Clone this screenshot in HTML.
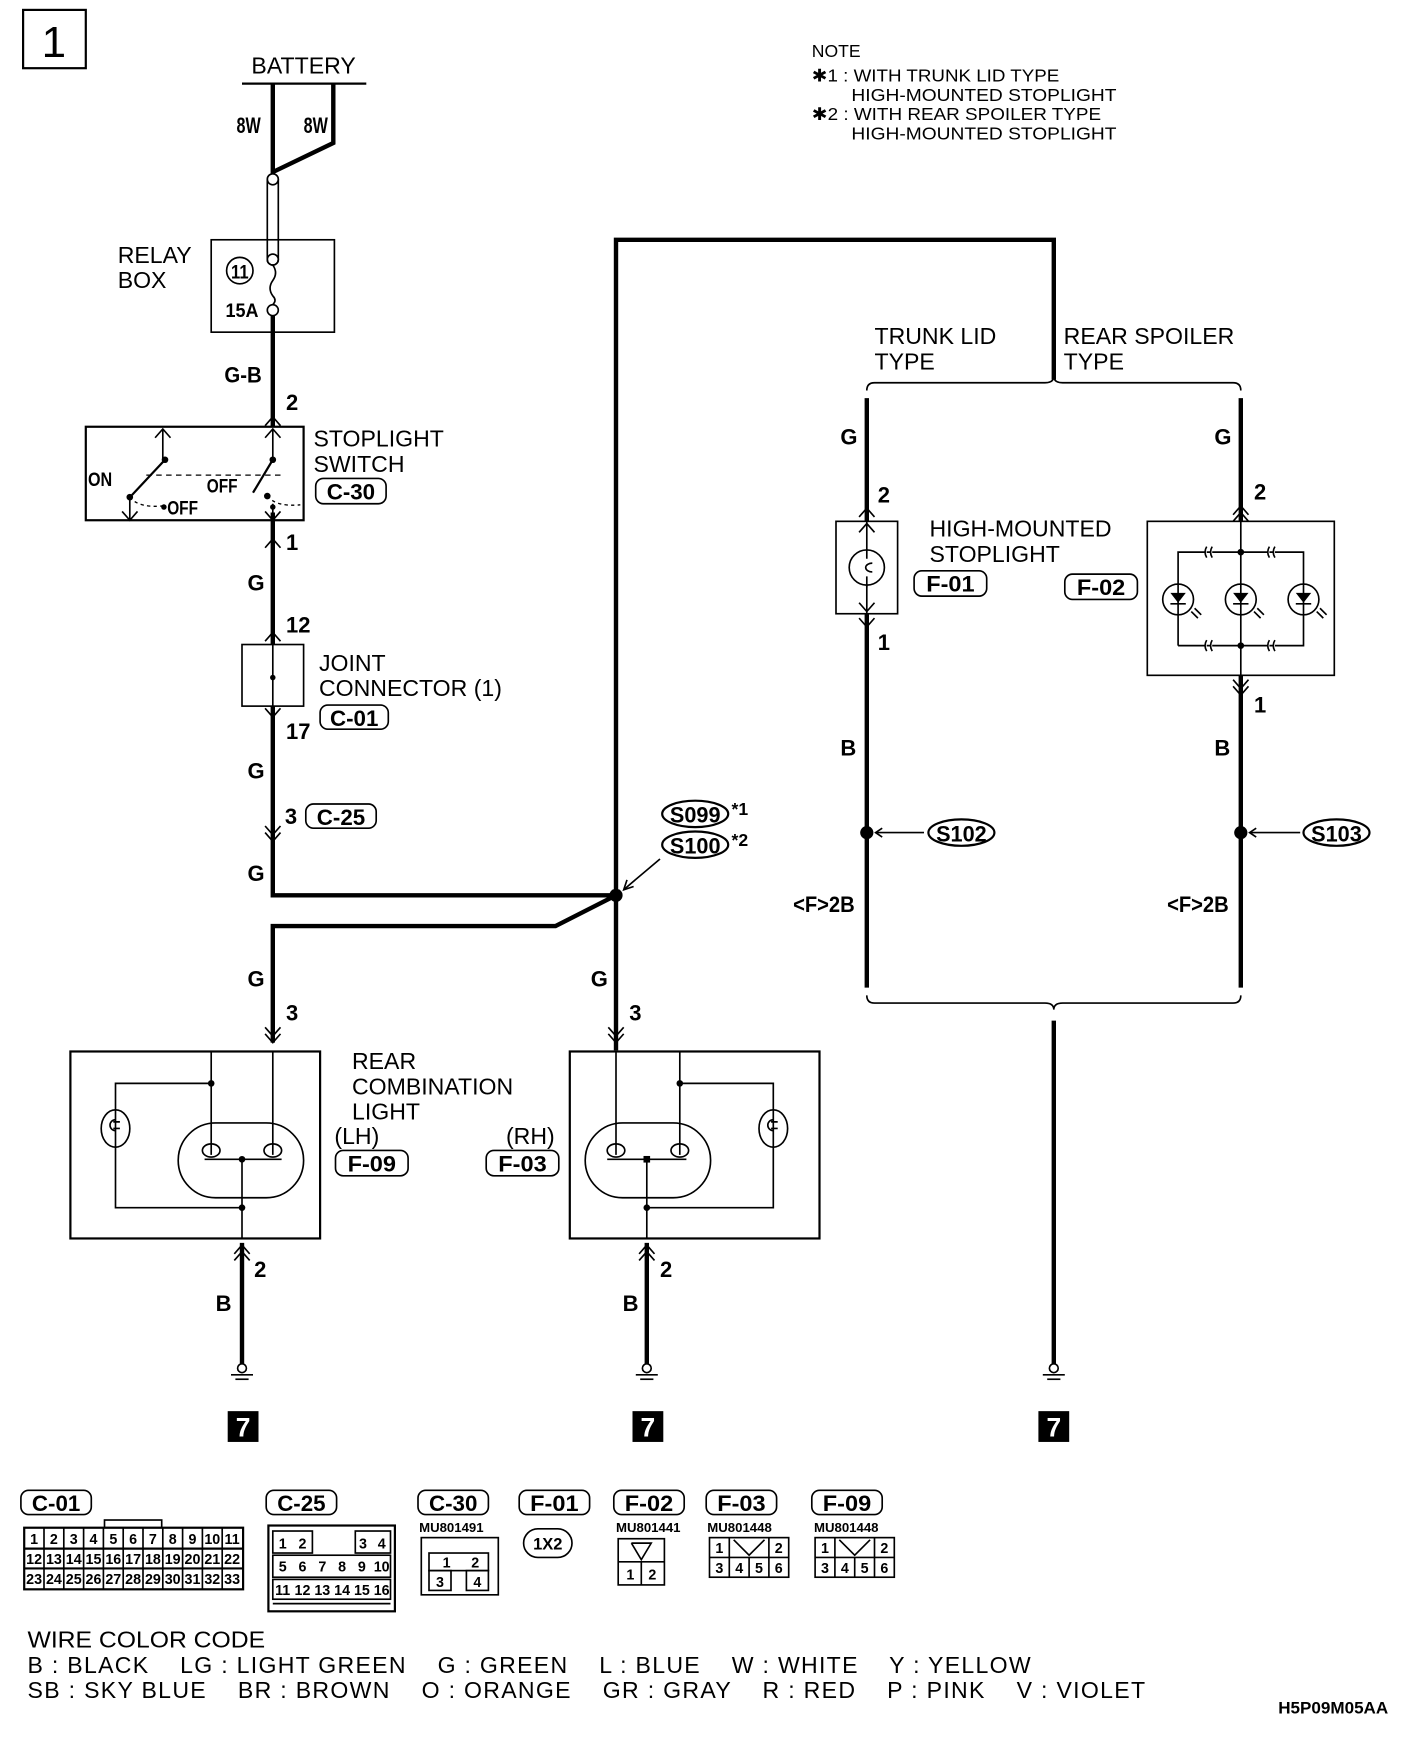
<!DOCTYPE html>
<html><head><meta charset="utf-8"><style>
html,body{margin:0;padding:0;background:#fff;}
svg{display:block}
.t{font-family:"Liberation Sans",sans-serif;font-size:21px;fill:#000}
.s{font-family:"Liberation Sans",sans-serif;font-size:16px;fill:#000}
.b{font-family:"Liberation Sans Narrow","Liberation Sans",sans-serif;font-weight:bold;font-size:20px;fill:#000}
.w{stroke:#000;stroke-width:4;fill:none}
.n{stroke:#000;stroke-width:1.5;fill:none}
.m{stroke:#000;stroke-width:2;fill:none}
</style></head><body>
<svg width="1408" height="1740" viewBox="0 0 1280 1582" preserveAspectRatio="none" xmlns="http://www.w3.org/2000/svg">
<rect width="1280" height="1582" fill="#fff"/>
<defs>
<g id="up"><polyline points="-7,8 0,0 7,8" class="n"/></g>
<g id="dn"><polyline points="-7,-8 0,0 7,-8" class="n"/></g>
<g id="up2"><polyline points="-7,8 0,0 7,8" class="n"/><polyline points="-7,14 0,6 7,14" class="n"/></g>
<g id="dn2"><polyline points="-7,-8 0,0 7,-8" class="n"/><polyline points="-7,-14 0,-6 7,-14" class="n"/></g>
<g id="gnd"><circle cx="0" cy="0" r="4" class="n" fill="#fff"/><line x1="-10" y1="6" x2="10" y2="6" class="n"/><line x1="-6" y1="10" x2="6" y2="10" class="n"/></g>
</defs>

<!-- box 1 -->
<rect x="21" y="9" width="57" height="53" class="m"/>
<text x="49" y="52" class="t" style="font-size:40px" text-anchor="middle">1</text>

<!-- battery -->
<text x="276" y="67" class="t" text-anchor="middle">BATTERY</text>
<line x1="220" y1="76" x2="333" y2="76" class="m"/>
<polyline points="248,76 248,158" class="w"/>
<polyline points="303,76 303,130 249,156" class="w"/>
<text x="215" y="121" class="b" textLength="22" lengthAdjust="spacingAndGlyphs">8W</text>
<text x="276" y="121" class="b" textLength="22" lengthAdjust="spacingAndGlyphs">8W</text>
<circle cx="248" cy="163" r="5" class="n" fill="#fff"/>
<line x1="243" y1="163" x2="243" y2="236" class="n"/>
<line x1="253" y1="163" x2="253" y2="236" class="n"/>
<path d="M243,236 A5,5 0 0 0 253,236" class="n"/>
<circle cx="248" cy="236" r="5" class="n" fill="#fff"/>
<path d="M248,241 q5,7 0,14 q-5,7 0,14 q4,4 0,8" class="n"/>
<circle cx="248" cy="282" r="5" class="n" fill="#fff"/>
<rect x="192" y="218" width="112" height="84" class="n"/>
<circle cx="218" cy="246" r="12" class="n"/>
<text x="218" y="253" class="b" text-anchor="middle" style="font-size:18px" textLength="16" lengthAdjust="spacingAndGlyphs">11</text>
<text x="205" y="288" class="b" style="font-size:18px" textLength="30" lengthAdjust="spacingAndGlyphs">15A</text>
<text x="107" y="239" class="t">RELAY</text>
<text x="107" y="262" class="t">BOX</text>

<polyline points="248,287 248,388" class="w"/>
<text x="204" y="348" class="b" textLength="34" lengthAdjust="spacingAndGlyphs">G-B</text>
<text x="260" y="373" class="b">2</text>
<use href="#up" x="248" y="379"/>

<!-- stoplight switch -->
<rect x="78" y="388" width="198" height="85" class="m"/>
<use href="#up" x="148" y="390"/>
<use href="#up" x="248" y="390"/>
<line x1="148" y1="390" x2="148" y2="418" class="n"/>
<line x1="248" y1="390" x2="248" y2="418" class="n"/>
<circle cx="150" cy="418" r="3"/>
<circle cx="248" cy="418" r="3"/>
<line x1="150" y1="418" x2="120" y2="450" class="m"/>
<line x1="248" y1="418" x2="230" y2="448" class="m"/>
<line x1="133" y1="432" x2="258" y2="432" stroke="#000" stroke-width="1.2" stroke-dasharray="5,4"/>
<circle cx="118" cy="452" r="3"/>
<circle cx="243" cy="451" r="3"/>
<path d="M118,452 q8,10 30,8" stroke="#000" stroke-width="1.2" stroke-dasharray="3,3" fill="none"/>
<path d="M243,451 q8,10 30,8" stroke="#000" stroke-width="1.2" stroke-dasharray="3,3" fill="none"/>
<circle cx="149" cy="461" r="2.5"/>
<circle cx="248" cy="461" r="2.5"/>
<line x1="118" y1="452" x2="118" y2="473" class="n"/>
<use href="#dn" x="118" y="473"/>
<line x1="248" y1="458" x2="248" y2="473" class="n"/>
<text x="80" y="442" class="b" style="font-size:18px" textLength="22" lengthAdjust="spacingAndGlyphs">ON</text>
<text x="188" y="448" class="b" style="font-size:18px" textLength="28" lengthAdjust="spacingAndGlyphs">OFF</text>
<text x="152" y="468" class="b" style="font-size:18px" textLength="28" lengthAdjust="spacingAndGlyphs">OFF</text>
<text x="285" y="406" class="t">STOPLIGHT</text>
<text x="285" y="429" class="t">SWITCH</text>
<rect x="287" y="435" width="64" height="23" rx="7" class="n"/>
<text x="319" y="454" class="b" text-anchor="middle" textLength="44" lengthAdjust="spacingAndGlyphs">C-30</text>

<use href="#dn" x="248" y="473"/>
<use href="#up" x="248" y="490"/>
<polyline points="248,466 248,586" class="w"/>
<text x="260" y="500" class="b">1</text>
<text x="225" y="537" class="b">G</text>
<text x="260" y="575" class="b">12</text>
<use href="#up" x="248" y="575"/>

<!-- joint connector -->
<rect x="220" y="586" width="56" height="56" class="n"/>
<line x1="248" y1="586" x2="248" y2="642" class="n"/>
<circle cx="248" cy="616" r="2.5"/>
<text x="290" y="610" class="t">JOINT</text>
<text x="290" y="633" class="t">CONNECTOR (1)</text>
<rect x="291" y="641" width="62" height="22" rx="7" class="n"/>
<text x="322" y="660" class="b" text-anchor="middle" textLength="44" lengthAdjust="spacingAndGlyphs">C-01</text>
<use href="#dn" x="248" y="652"/>
<polyline points="248,642 248,814 560,814" class="w"/>
<text x="260" y="672" class="b">17</text>
<text x="225" y="708" class="b">G</text>
<text x="259" y="749" class="b">3</text>
<rect x="278" y="731" width="64" height="22" rx="7" class="n"/>
<text x="310" y="750" class="b" text-anchor="middle" textLength="44" lengthAdjust="spacingAndGlyphs">C-25</text>
<use href="#dn2" x="248" y="765"/>
<text x="225" y="801" class="b">G</text>

<!-- splice and big wire -->
<polyline points="560,955 560,218 958,218 958,345" class="w"/>
<polyline points="560,814 505,842 248,842 248,948" class="w"/>
<circle cx="560" cy="814" r="6"/>
<ellipse cx="632" cy="740" rx="30" ry="12" class="m"/>
<text x="632" y="748" class="b" text-anchor="middle" textLength="46" lengthAdjust="spacingAndGlyphs">S099</text>
<text x="665" y="741" class="b" style="font-size:16px">*1</text>
<ellipse cx="632" cy="768" rx="30" ry="12" class="m"/>
<text x="632" y="776" class="b" text-anchor="middle" textLength="46" lengthAdjust="spacingAndGlyphs">S100</text>
<text x="665" y="769" class="b" style="font-size:16px">*2</text>
<line x1="600" y1="781" x2="568" y2="808" class="n"/>
<polyline points="570,800 567,809 576,806" class="n"/>

<!-- rear combination lamps -->
<text x="225" y="897" class="b">G</text>
<text x="260" y="928" class="b">3</text>
<use href="#dn2" x="248" y="948"/>
<text x="537" y="897" class="b">G</text>
<text x="572" y="928" class="b">3</text>
<use href="#dn2" x="560" y="948"/>

<rect x="64" y="956" width="227" height="170" class="m"/>
<line x1="248" y1="956" x2="248" y2="1050" class="n"/>
<polyline points="192,956 192,1050" class="n"/>
<polyline points="192,985 105,985 105,1098 220,1098" class="n"/>
<circle cx="192" cy="985" r="3"/>
<ellipse cx="105" cy="1026" rx="13" ry="17" class="n" fill="#fff"/>
<path d="M105,1018 a5,5 0 1 0 0,10 M103,1020 h6 M103,1026 h6" class="n"/>
<rect x="162" y="1021" width="114" height="68" rx="34" class="n"/>
<path d="M192,1040 a8,6 0 1 0 0,12 a8,6 0 1 0 0,-12 M248,1040 a8,6 0 1 0 0,12 a8,6 0 1 0 0,-12" class="n"/>
<line x1="186" y1="1054" x2="256" y2="1054" class="n"/>
<line x1="220" y1="1054" x2="220" y2="1126" class="n"/>
<circle cx="220" cy="1054" r="3"/>
<circle cx="220" cy="1098" r="3"/>

<rect x="518" y="956" width="227" height="170" class="m"/>
<line x1="560" y1="956" x2="560" y2="1050" class="n"/>
<polyline points="618,956 618,1050" class="n"/>
<polyline points="618,985 703,985 703,1098 588,1098" class="n"/>
<circle cx="618" cy="985" r="3"/>
<ellipse cx="703" cy="1026" rx="13" ry="17" class="n" fill="#fff"/>
<path d="M703,1018 a5,5 0 1 0 0,10 M701,1020 h6 M701,1026 h6" class="n"/>
<rect x="532" y="1021" width="114" height="68" rx="34" class="n"/>
<path d="M560,1040 a8,6 0 1 0 0,12 a8,6 0 1 0 0,-12 M618,1040 a8,6 0 1 0 0,12 a8,6 0 1 0 0,-12" class="n"/>
<line x1="552" y1="1054" x2="624" y2="1054" class="n"/>
<line x1="588" y1="1054" x2="588" y2="1126" class="n"/>
<rect x="585" y="1051" width="6" height="6"/>
<circle cx="588" cy="1098" r="3"/>

<text x="320" y="972" class="t">REAR</text>
<text x="320" y="995" class="t">COMBINATION</text>
<text x="320" y="1018" class="t">LIGHT</text>
<text x="304" y="1040" class="t">(LH)</text>
<rect x="305" y="1046" width="66" height="23" rx="7" class="n"/>
<text x="338" y="1065" class="b" text-anchor="middle" textLength="44" lengthAdjust="spacingAndGlyphs">F-09</text>
<text x="460" y="1040" class="t">(RH)</text>
<rect x="442" y="1046" width="66" height="23" rx="7" class="n"/>
<text x="475" y="1065" class="b" text-anchor="middle" textLength="44" lengthAdjust="spacingAndGlyphs">F-03</text>

<!-- grounds -->
<polyline points="220,1130 220,1240" class="w"/>
<use href="#up2" x="220" y="1132"/>
<text x="231" y="1161" class="b">2</text>
<text x="196" y="1192" class="b">B</text>
<use href="#gnd" x="220" y="1244"/>
<rect x="207" y="1283" width="28" height="28"/>
<text x="221" y="1306" class="b" style="fill:#fff;font-size:24px" text-anchor="middle">7</text>

<polyline points="588,1130 588,1240" class="w"/>
<use href="#up2" x="588" y="1132"/>
<text x="600" y="1161" class="b">2</text>
<text x="566" y="1192" class="b">B</text>
<use href="#gnd" x="588" y="1244"/>
<rect x="575" y="1283" width="28" height="28"/>
<text x="589" y="1306" class="b" style="fill:#fff;font-size:24px" text-anchor="middle">7</text>

<polyline points="958,928 958,1240" class="w"/>
<use href="#gnd" x="958" y="1244"/>
<rect x="944" y="1283" width="28" height="28"/>
<text x="958" y="1306" class="b" style="fill:#fff;font-size:24px" text-anchor="middle">7</text>

<!-- right side -->
<text x="795" y="313" class="t">TRUNK LID</text>
<text x="795" y="336" class="t">TYPE</text>
<text x="967" y="313" class="t">REAR SPOILER</text>
<text x="967" y="336" class="t">TYPE</text>
<path d="M788,355 q0,-7 7,-7 H950 q8,0 8,-6 q0,6 8,6 H1121 q7,0 7,7" class="n"/>
<path d="M788,905 q0,7 7,7 H950 q8,0 8,6 q0,-6 8,-6 H1121 q7,0 7,-7" class="n"/>

<polyline points="788,362 788,898" class="w"/>
<polyline points="1128,362 1128,898" class="w"/>
<text x="764" y="404" class="b">G</text>
<text x="1104" y="404" class="b">G</text>
<text x="798" y="457" class="b">2</text>
<text x="1140" y="454" class="b">2</text>
<use href="#up" x="788" y="462"/>
<rect x="760" y="474" width="56" height="84" fill="#fff" stroke="#000" stroke-width="1.5"/>
<line x1="788" y1="474" x2="788" y2="558" class="n"/>
<use href="#up" x="788" y="476"/>
<use href="#dn" x="788" y="556"/>
<use href="#dn" x="788" y="570"/>
<circle cx="788" cy="516" r="16" fill="#fff" stroke="#000" stroke-width="1.5"/>
<path d="M793,512 a6,4 0 1 0 0,8 M788,500 v8 M788,524 v10" class="n"/>
<text x="798" y="591" class="b">1</text>
<text x="845" y="488" class="t">HIGH-MOUNTED</text>
<text x="845" y="511" class="t">STOPLIGHT</text>
<rect x="831" y="519" width="66" height="23" rx="7" class="n"/>
<text x="864" y="538" class="b" text-anchor="middle" textLength="44" lengthAdjust="spacingAndGlyphs">F-01</text>
<rect x="968" y="522" width="66" height="23" rx="7" class="n"/>
<text x="1001" y="541" class="b" text-anchor="middle" textLength="44" lengthAdjust="spacingAndGlyphs">F-02</text>

<use href="#up2" x="1128" y="460"/>
<rect x="1043" y="474" width="170" height="140" fill="#fff" stroke="#000" stroke-width="1.5"/>
<line x1="1128" y1="474" x2="1128" y2="614" class="n"/>
<polyline points="1071,587 1071,502 1185,502 1185,587 1071,587" class="n"/>
<circle cx="1128" cy="502" r="3"/>
<circle cx="1128" cy="587" r="3"/>
<g fill="#fff" stroke="#000" stroke-width="1.5">
<circle cx="1071" cy="545" r="14"/><circle cx="1128" cy="545" r="14"/><circle cx="1185" cy="545" r="14"/>
</g>
<g>
<path d="M1064,539 h14 l-7,9 z M1121,539 h14 l-7,9 z M1178,539 h14 l-7,9 z"/>
<path d="M1064,549 h14 M1121,549 h14 M1178,549 h14 M1071,531 v28 M1128,531 v28 M1185,531 v28" class="n"/>
<path d="M1083,556 l6,6 M1086,553 l6,6 M1140,556 l6,6 M1143,553 l6,6 M1197,556 l6,6 M1200,553 l6,6" class="n"/>
<path d="M1097,497 q-3,5 0,10 M1102,497 q-3,5 0,10 M1154,497 q-3,5 0,10 M1159,497 q-3,5 0,10 M1097,582 q-3,5 0,10 M1102,582 q-3,5 0,10 M1154,582 q-3,5 0,10 M1159,582 q-3,5 0,10" stroke="#000" stroke-width="1.5" fill="#fff"/>
</g>
<use href="#dn2" x="1128" y="632"/>
<text x="1140" y="648" class="b">1</text>
<text x="764" y="687" class="b">B</text>
<text x="1104" y="687" class="b">B</text>

<circle cx="788" cy="757" r="6"/>
<line x1="840" y1="757" x2="796" y2="757" class="n"/>
<polyline points="802,753 796,757 802,761" class="n"/>
<ellipse cx="874" cy="757" rx="30" ry="12" class="m"/>
<text x="874" y="765" class="b" text-anchor="middle" textLength="46" lengthAdjust="spacingAndGlyphs">S102</text>
<circle cx="1128" cy="757" r="6"/>
<line x1="1182" y1="757" x2="1136" y2="757" class="n"/>
<polyline points="1142,753 1136,757 1142,761" class="n"/>
<ellipse cx="1215" cy="757" rx="30" ry="12" class="m"/>
<text x="1215" y="765" class="b" text-anchor="middle" textLength="46" lengthAdjust="spacingAndGlyphs">S103</text>
<text x="721" y="829" class="b" textLength="56" lengthAdjust="spacingAndGlyphs">&lt;F&gt;2B</text>
<text x="1061" y="829" class="b" textLength="56" lengthAdjust="spacingAndGlyphs">&lt;F&gt;2B</text>

<!-- note -->
<text x="738" y="52" class="s">NOTE</text>
<text x="738" y="74" class="s" textLength="225" lengthAdjust="spacingAndGlyphs">✱1 : WITH TRUNK LID TYPE</text>
<text x="774" y="92" class="s" textLength="241" lengthAdjust="spacingAndGlyphs">HIGH-MOUNTED STOPLIGHT</text>
<text x="738" y="109" class="s" textLength="263" lengthAdjust="spacingAndGlyphs">✱2 : WITH REAR SPOILER TYPE</text>
<text x="774" y="127" class="s" textLength="241" lengthAdjust="spacingAndGlyphs">HIGH-MOUNTED STOPLIGHT</text>

<!-- connector legend -->
<g>
<rect x="19" y="1355" width="64" height="22" rx="7" class="n"/><text x="51" y="1374" class="b" text-anchor="middle" textLength="44" lengthAdjust="spacingAndGlyphs">C-01</text>
<rect x="242" y="1355" width="64" height="22" rx="7" class="n"/><text x="274" y="1374" class="b" text-anchor="middle" textLength="44" lengthAdjust="spacingAndGlyphs">C-25</text>
<rect x="380" y="1355" width="64" height="22" rx="7" class="n"/><text x="412" y="1374" class="b" text-anchor="middle" textLength="44" lengthAdjust="spacingAndGlyphs">C-30</text>
<rect x="472" y="1355" width="64" height="22" rx="7" class="n"/><text x="504" y="1374" class="b" text-anchor="middle" textLength="44" lengthAdjust="spacingAndGlyphs">F-01</text>
<rect x="558" y="1355" width="64" height="22" rx="7" class="n"/><text x="590" y="1374" class="b" text-anchor="middle" textLength="44" lengthAdjust="spacingAndGlyphs">F-02</text>
<rect x="642" y="1355" width="64" height="22" rx="7" class="n"/><text x="674" y="1374" class="b" text-anchor="middle" textLength="44" lengthAdjust="spacingAndGlyphs">F-03</text>
<rect x="738" y="1355" width="64" height="22" rx="7" class="n"/><text x="770" y="1374" class="b" text-anchor="middle" textLength="44" lengthAdjust="spacingAndGlyphs">F-09</text>
</g>
<!-- C-01 grid -->
<rect x="22" y="1389" width="199" height="56" class="m"/>
<rect x="95" y="1382" width="52" height="7" class="n"/>
<line x1="22" y1="1408" x2="221" y2="1408" class="m"/>
<line x1="22" y1="1426" x2="221" y2="1426" class="m"/>
<g class="b" style="font-size:13px" text-anchor="middle">
<text x="31" y="1404">1</text><text x="49" y="1404">2</text><text x="67" y="1404">3</text><text x="85" y="1404">4</text><text x="103" y="1404">5</text><text x="121" y="1404">6</text><text x="139" y="1404">7</text><text x="157" y="1404">8</text><text x="175" y="1404">9</text><text x="193" y="1404">10</text><text x="211" y="1404">11</text>
<text x="31" y="1422">12</text><text x="49" y="1422">13</text><text x="67" y="1422">14</text><text x="85" y="1422">15</text><text x="103" y="1422">16</text><text x="121" y="1422">17</text><text x="139" y="1422">18</text><text x="157" y="1422">19</text><text x="175" y="1422">20</text><text x="193" y="1422">21</text><text x="211" y="1422">22</text>
<text x="31" y="1440">23</text><text x="49" y="1440">24</text><text x="67" y="1440">25</text><text x="85" y="1440">26</text><text x="103" y="1440">27</text><text x="121" y="1440">28</text><text x="139" y="1440">29</text><text x="157" y="1440">30</text><text x="175" y="1440">31</text><text x="193" y="1440">32</text><text x="211" y="1440">33</text>
</g>
<g class="n"><path d="M40,1389v56M58,1389v56M76,1389v56M94,1389v56M112,1389v56M130,1389v56M148,1389v56M166,1389v56M184,1389v56M202,1389v56"/></g>
<!-- C-25 -->
<rect x="244" y="1387" width="115" height="78" class="m"/>
<rect x="248" y="1392" width="36" height="20" class="n"/><rect x="323" y="1392" width="32" height="20" class="n"/>
<rect x="248" y="1414" width="107" height="20" class="n"/>
<rect x="248" y="1436" width="107" height="18" class="n"/>
<line x1="248" y1="1458" x2="355" y2="1458" class="n"/>
<g class="b" style="font-size:13px" text-anchor="middle">
<text x="257" y="1408">1</text><text x="275" y="1408">2</text><text x="330" y="1408">3</text><text x="347" y="1408">4</text>
<text x="257" y="1429">5</text><text x="275" y="1429">6</text><text x="293" y="1429">7</text><text x="311" y="1429">8</text><text x="329" y="1429">9</text><text x="347" y="1429">10</text>
<text x="257" y="1450">11</text><text x="275" y="1450">12</text><text x="293" y="1450">13</text><text x="311" y="1450">14</text><text x="329" y="1450">15</text><text x="347" y="1450">16</text>
</g>
<!-- C-30 -->
<text x="381" y="1393" class="b" style="font-size:12px">MU801491</text>
<rect x="383" y="1398" width="70" height="52" class="n"/>
<rect x="390" y="1412" width="54" height="16" class="n"/>
<rect x="390" y="1428" width="20" height="18" class="n"/><rect x="424" y="1428" width="20" height="18" class="n"/>
<g class="b" style="font-size:13px" text-anchor="middle"><text x="406" y="1425">1</text><text x="432" y="1425">2</text><text x="400" y="1443">3</text><text x="434" y="1443">4</text></g>
<!-- F-01 -->
<rect x="476" y="1390" width="44" height="26" rx="13" class="n"/>
<text x="498" y="1409" class="b" style="font-size:15px" text-anchor="middle">1X2</text>
<!-- F-02 -->
<text x="560" y="1393" class="b" style="font-size:12px">MU801441</text>
<rect x="562" y="1399" width="42" height="42" class="n"/>
<line x1="562" y1="1420" x2="604" y2="1420" class="n"/><line x1="583" y1="1420" x2="583" y2="1441" class="n"/>
<polyline points="574,1403 592,1403 583,1418 574,1403" class="n"/>
<g class="b" style="font-size:13px" text-anchor="middle"><text x="573" y="1436">1</text><text x="593" y="1436">2</text></g>
<!-- F-03 -->
<text x="643" y="1393" class="b" style="font-size:12px">MU801448</text>
<rect x="645" y="1398" width="72" height="36" class="n"/>
<line x1="645" y1="1416" x2="717" y2="1416" class="n"/>
<path d="M663,1398v36M681,1416v18M699,1398v36" class="n"/>
<polyline points="667,1400 681,1414 695,1400" class="n"/>
<g class="b" style="font-size:13px" text-anchor="middle"><text x="654" y="1412">1</text><text x="708" y="1412">2</text><text x="654" y="1430">3</text><text x="672" y="1430">4</text><text x="690" y="1430">5</text><text x="708" y="1430">6</text></g>
<!-- F-09 -->
<text x="740" y="1393" class="b" style="font-size:12px">MU801448</text>
<rect x="741" y="1398" width="72" height="36" class="n"/>
<line x1="741" y1="1416" x2="813" y2="1416" class="n"/>
<path d="M759,1398v36M777,1416v18M795,1398v36" class="n"/>
<polyline points="763,1400 777,1414 791,1400" class="n"/>
<g class="b" style="font-size:13px" text-anchor="middle"><text x="750" y="1412">1</text><text x="804" y="1412">2</text><text x="750" y="1430">3</text><text x="768" y="1430">4</text><text x="786" y="1430">5</text><text x="804" y="1430">6</text></g>

<!-- wire color code -->
<text x="25" y="1498" class="t" textLength="216" lengthAdjust="spacingAndGlyphs">WIRE COLOR CODE</text>
<text x="25" y="1521" class="t" xml:space="preserve" textLength="912" lengthAdjust="spacing">B : BLACK    LG : LIGHT GREEN    G : GREEN    L : BLUE    W : WHITE    Y : YELLOW</text>
<text x="25" y="1544" class="t" xml:space="preserve" textLength="1016" lengthAdjust="spacing">SB : SKY BLUE    BR : BROWN    O : ORANGE    GR : GRAY    R : RED    P : PINK    V : VIOLET</text>
<text x="1162" y="1558" class="b" style="font-size:15px" textLength="100" lengthAdjust="spacingAndGlyphs">H5P09M05AA</text>
</svg>
</body></html>
